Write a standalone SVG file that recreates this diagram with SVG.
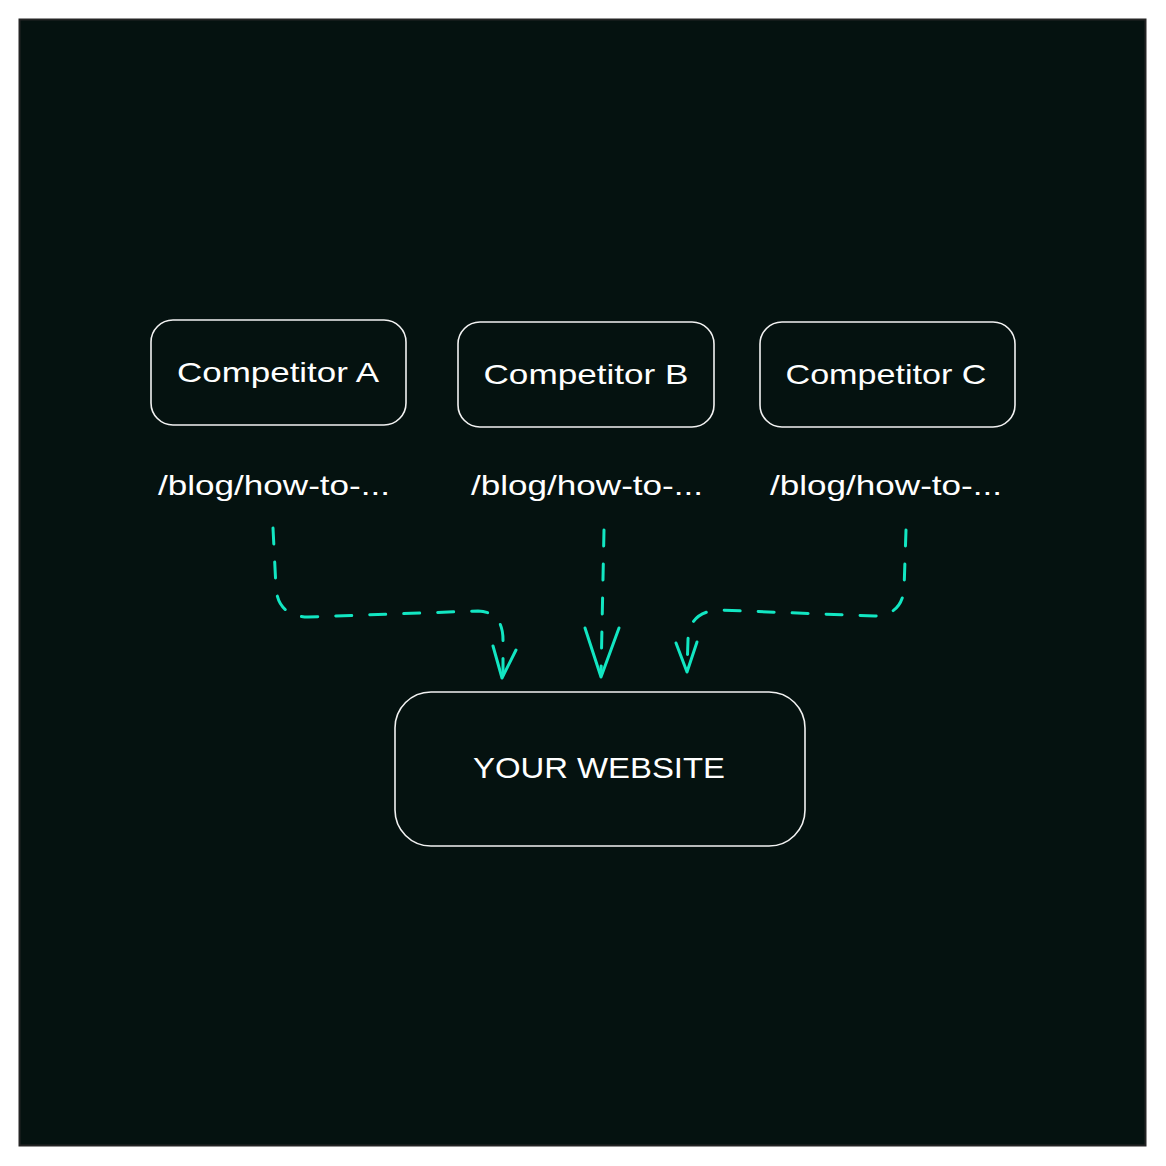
<svg xmlns="http://www.w3.org/2000/svg" width="1166" height="1166" viewBox="0 0 1166 1166">
<style>
.box{fill:#051210;stroke:#f2f2f2;stroke-width:1.6}
.lbl{font-family:"Liberation Sans","DejaVu Sans",sans-serif;fill:#ffffff;text-anchor:middle}
.conn{fill:none;stroke:#12e6c2;stroke-width:3;stroke-linecap:round;stroke-dasharray:16 18}
.head{fill:none;stroke:#12e6c2;stroke-width:3;stroke-linecap:round;stroke-linejoin:round}
</style>
<rect x="0" y="0" width="1166" height="1166" fill="#ffffff"/>
<rect x="19.5" y="19.5" width="1126" height="1126" fill="#051210" stroke="#242424" stroke-width="2"/>
<g id="connectors">
<path class="conn" d="M273 528 L276 588 Q278 616 308 617 L478 611 Q503 612 503 640 L503 676"/>
<path class="head" d="M493 646 L502 678 L516 650"/>
<path class="conn" d="M604 530 L601 675"/>
<path class="head" d="M585 628 L601 677 L619 628"/>
<path class="conn" d="M906 530 L904 590 Q901 615 875 616 L718 610 Q689 612 688 640 L687 670"/>
<path class="head" d="M676 643 L687 672 L697 642"/>
</g>
<g id="competitor-a">
<rect class="box" x="151" y="320" width="255" height="105" rx="22"/>
<text class="lbl" x="278" y="382" font-size="28" textLength="202" lengthAdjust="spacingAndGlyphs">Competitor A</text>
</g>
<g id="path-a">
<text class="lbl" x="274" y="495" font-size="28" textLength="232" lengthAdjust="spacingAndGlyphs">/blog/how-to-...</text>
</g>
<g id="competitor-b">
<rect class="box" x="458" y="322" width="256" height="105" rx="22"/>
<text class="lbl" x="586" y="384" font-size="28" textLength="205" lengthAdjust="spacingAndGlyphs">Competitor B</text>
</g>
<g id="path-b">
<text class="lbl" x="587" y="495" font-size="28" textLength="232" lengthAdjust="spacingAndGlyphs">/blog/how-to-...</text>
</g>
<g id="competitor-c">
<rect class="box" x="760" y="322" width="255" height="105" rx="22"/>
<text class="lbl" x="886" y="384" font-size="28" textLength="201" lengthAdjust="spacingAndGlyphs">Competitor C</text>
</g>
<g id="path-c">
<text class="lbl" x="886" y="495" font-size="28" textLength="232" lengthAdjust="spacingAndGlyphs">/blog/how-to-...</text>
</g>
<g id="your-website">
<rect class="box" x="395" y="692" width="410" height="154" rx="36"/>
<text class="lbl" x="599" y="778" font-size="30" textLength="252" lengthAdjust="spacingAndGlyphs">YOUR WEBSITE</text>
</g>
</svg>
